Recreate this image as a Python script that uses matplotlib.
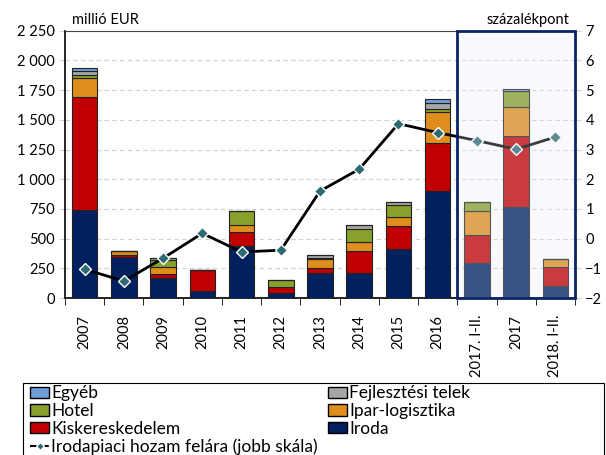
import matplotlib.pyplot as plt
from matplotlib.patches import Rectangle, Patch
from matplotlib.lines import Line2D
from matplotlib.ticker import FuncFormatter, FixedLocator

plt.rcParams['font.family'] = ['Lato', 'DejaVu Sans']

categories = ['2007', '2008', '2009', '2010', '2011', '2012', '2013', '2014',
              '2015', '2016', '2017. I-II.', '2017', '2018. I-II.']

iroda = [740, 345, 168, 62, 435, 40, 208, 208, 410, 900, 292, 765, 104]
kisker = [950, 20, 32, 170, 118, 52, 42, 188, 194, 405, 236, 598, 155]
ipar = [160, 35, 64, 0, 62, 0, 80, 79, 81, 262, 205, 245, 67]
hotel = [30, 0, 56, 8, 120, 60, 5, 106, 96, 20, 74, 138, 0]
fejl = [35, 0, 15, 0, 0, 0, 28, 37, 28, 58, 0, 0, 0]
egyeb = [25, 0, 0, 0, 0, 0, 0, 0, 0, 34, 0, 14, 0]

spread = [-1.03, -1.43, -0.66, 0.18, -0.45, -0.39, 1.60, 2.34, 3.87, 3.57,
          3.30, 3.01, 3.42]

series = [
    ('Iroda', iroda, '#002060'),
    ('Kiskereskedelem', kisker, '#c00000'),
    ('Ipar-logisztika', ipar, '#df8e1e'),
    ('Hotel', hotel, '#88a02c'),
    ('Fejlesztési telek', fejl, '#a6a6a6'),
    ('Egyéb', egyeb, '#6f9fd8'),
]

fig = plt.figure(figsize=(6.06, 4.55), dpi=100)
ax = fig.add_axes([0.1073, 0.345, 0.8415, 0.5875])
ax2 = ax.twinx()

x = list(range(len(categories)))
bottom = [0] * len(categories)
for name, vals, col in series:
    ax.bar(x, vals, width=0.65, bottom=bottom, color=col, edgecolor='#222222',
           linewidth=0.8, zorder=3)
    bottom = [b + v for b, v in zip(bottom, vals)]

ax.set_xlim(-0.5, len(categories) - 0.5)
ax.set_ylim(0, 2250)
ax.set_yticks(range(0, 2251, 250))
ax.yaxis.set_major_formatter(FuncFormatter(lambda v, p: f'{int(v):,}'.replace(',', ' ')))
ax.grid(axis='y', color='#d0d0d0', linestyle=(0, (4, 3)), linewidth=0.8, zorder=0)
ax.set_axisbelow(True)

ax.set_xticks(x)
ax.set_xticklabels(categories, rotation=90, fontsize=10.5)
ax.xaxis.set_minor_locator(FixedLocator([i - 0.5 for i in range(len(categories) + 1)]))
ax.tick_params(axis='x', which='major', length=0, pad=12)
ax.tick_params(axis='x', which='minor', length=5, direction='out', color='black')
ax.tick_params(axis='y', labelsize=10.5, length=4, color='#d0d0d0')

for s in ['left', 'bottom']:
    ax.spines[s].set_color('black')
    ax.spines[s].set_linewidth(1.2)
ax.spines['top'].set_color('#444444')
ax.spines['right'].set_visible(False)
for s in ['left', 'bottom', 'top', 'right']:
    ax2.spines[s].set_visible(False)

ax2.plot(x, spread, color='black', linewidth=2, marker='D', markersize=6.5,
         markerfacecolor='#2e6a72', markeredgecolor='white', markeredgewidth=1,
         zorder=5)
ax2.set_ylim(-2, 7)
ax2.set_yticks(range(-2, 8))
ax2.tick_params(axis='y', labelsize=10.5, length=4, color='#d0d0d0')

# highlighted period box
ax2.add_patch(Rectangle((9.5, -2), 3, 9, facecolor='#e6edf8', alpha=0.25,
                        edgecolor='none', zorder=6))
ax2.add_patch(Rectangle((9.5, -2), 3, 9, facecolor='none', edgecolor='#0c2466',
                        linewidth=2, zorder=7, clip_on=False))

fig.text(0.119, 0.955, 'millió EUR', fontsize=10.5, va='center')
fig.text(0.94, 0.955, 'százalékpont', fontsize=10.5, va='center', ha='right')

handles = [
    Patch(facecolor='#6f9fd8', edgecolor='black', label='Egyéb'),
    Patch(facecolor='#88a02c', edgecolor='black', label='Hotel'),
    Patch(facecolor='#c00000', edgecolor='black', label='Kiskereskedelem'),
    Line2D([], [], color='black', linestyle='--', marker='D', markersize=4,
           markerfacecolor='#2e6a72', markeredgecolor='white',
           label='Irodapiaci hozam felára (jobb skála)'),
    Patch(facecolor='#a6a6a6', edgecolor='black', label='Fejlesztési telek'),
    Patch(facecolor='#df8e1e', edgecolor='black', label='Ipar-logisztika'),
    Patch(facecolor='#002060', edgecolor='black', label='Iroda'),
]
fig.legend(handles=handles, ncol=2, loc='upper left',
           bbox_to_anchor=(0.05, 0.153), fontsize=12.5, frameon=False,
           handlelength=1.1, handleheight=0.6, handletextpad=0.1,
           labelspacing=0.1, columnspacing=0.6, borderpad=0, borderaxespad=0)
fig.patches.append(Rectangle((0.038, -0.2), 0.959, 0.358, transform=fig.transFigure,
                             facecolor='none', edgecolor='black', linewidth=0.8))

fig.savefig('out.png', dpi=100)
